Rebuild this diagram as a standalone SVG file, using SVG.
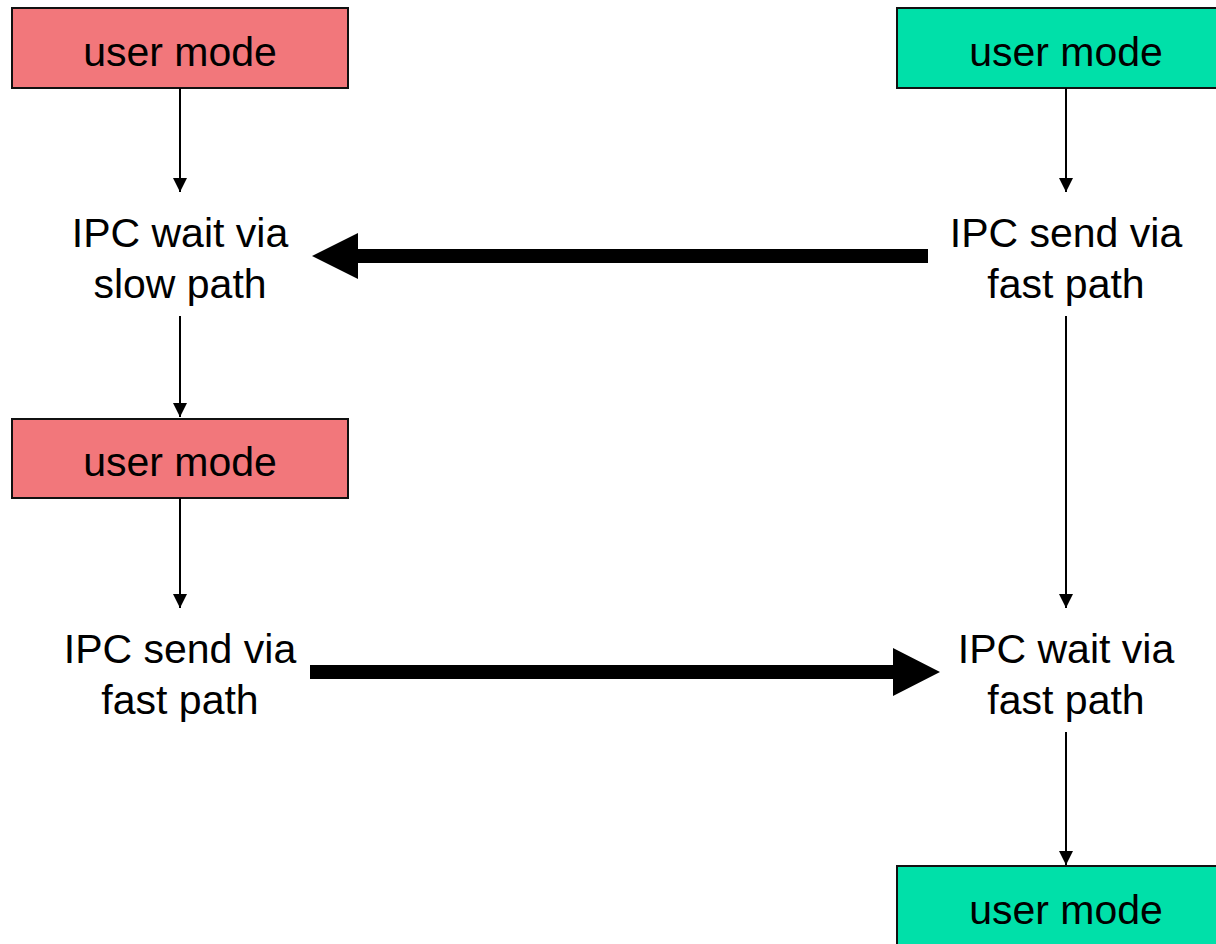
<svg xmlns="http://www.w3.org/2000/svg" width="1216" height="944" viewBox="0 0 1216 944">
  <style>
    .box { stroke: #111; stroke-width: 2; }
    .red { fill: #F2777B; }
    .green { fill: #00E0A9; }
    .lbl { font-family: "Liberation Sans", Arial, sans-serif; font-size: 41px; fill: #000; text-anchor: middle; }
    .thin { stroke: #000; stroke-width: 2; fill: none; marker-end: url(#head); }
    .thick { fill: #000; }
  </style>
  <defs>
    <marker id="head" viewBox="0 0 14 14" refX="14" refY="7" markerWidth="14" markerHeight="14" markerUnits="userSpaceOnUse" orient="auto">
      <path d="M0,0 L14,7 L0,14 Z" fill="#000"/>
    </marker>
  </defs>

  <!-- left column: slow-path side -->
  <g id="left-user-1">
    <rect class="box red" x="12" y="8" width="336" height="80"/>
    <text class="lbl" x="180" y="66">user mode</text>
  </g>
  <g id="left-ipc-wait">
    <text class="lbl" x="180" y="247">IPC wait via</text>
    <text class="lbl" x="180" y="298">slow path</text>
  </g>
  <g id="left-user-2">
    <rect class="box red" x="12" y="419" width="336" height="79"/>
    <text class="lbl" x="180" y="476">user mode</text>
  </g>
  <g id="left-ipc-send">
    <text class="lbl" x="180" y="663">IPC send via</text>
    <text class="lbl" x="180" y="714">fast path</text>
  </g>

  <!-- right column: fast-path side -->
  <g id="right-user-1">
    <rect class="box green" x="897" y="8" width="337" height="80"/>
    <text class="lbl" x="1066" y="66">user mode</text>
  </g>
  <g id="right-ipc-send">
    <text class="lbl" x="1066" y="247">IPC send via</text>
    <text class="lbl" x="1066" y="298">fast path</text>
  </g>
  <g id="right-ipc-wait">
    <text class="lbl" x="1066" y="663">IPC wait via</text>
    <text class="lbl" x="1066" y="714">fast path</text>
  </g>
  <g id="right-user-2">
    <rect class="box green" x="897" y="866" width="337" height="80"/>
    <text class="lbl" x="1066" y="924">user mode</text>
  </g>

  <g id="connectors">
    <line class="thin" x1="180" y1="88" x2="180" y2="192"/>
    <line class="thin" x1="180" y1="316" x2="180" y2="417"/>
    <line class="thin" x1="180" y1="498" x2="180" y2="608"/>
    <line class="thin" x1="1066" y1="88" x2="1066" y2="192"/>
    <line class="thin" x1="1066" y1="316" x2="1066" y2="608"/>
    <line class="thin" x1="1066" y1="732" x2="1066" y2="865"/>
    <!-- message arrows between the two threads -->
    <polygon class="thick" points="928,249 358,249 358,233 312,256 358,279 358,263 928,263"/>
    <polygon class="thick" points="310,665 893,665 893,648 940,672 893,696 893,679 310,679"/>
  </g>
</svg>
